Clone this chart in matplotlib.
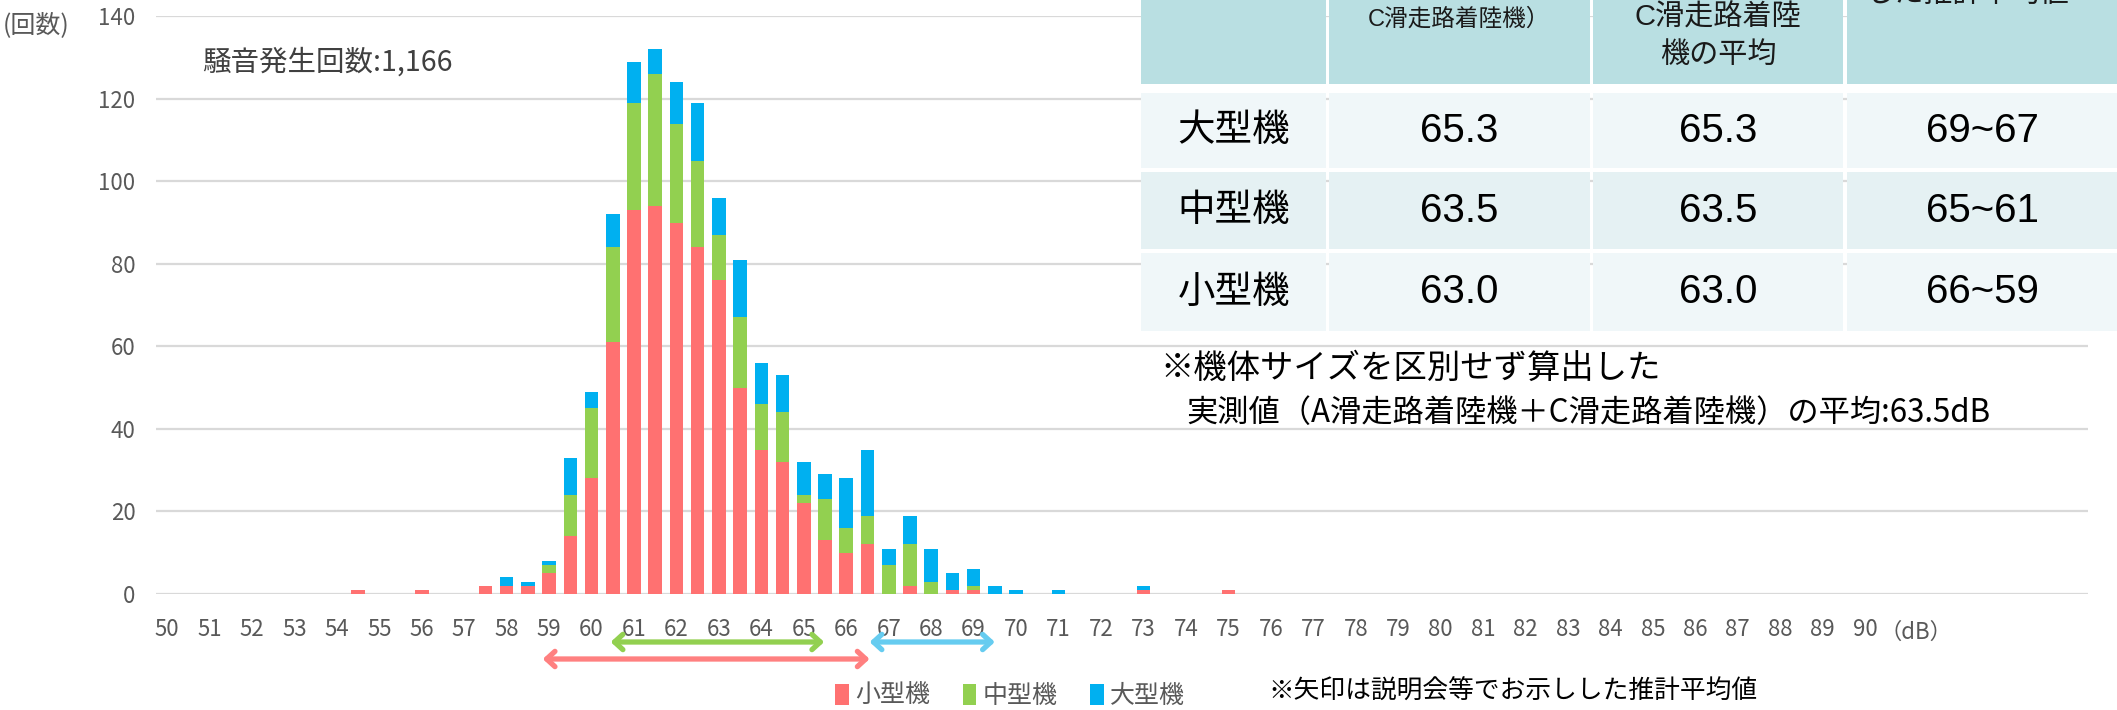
import matplotlib
matplotlib.use('Agg')
import matplotlib.pyplot as plt
from matplotlib.patches import Rectangle

plt.rcParams['font.family'] = ['Noto Sans CJK JP', 'DejaVu Sans']

W, H = 2117, 710

# 0.5 dB bins that carry any events (axis runs 50-95)
db_bins = [54.5, 55.0, 55.5, 56.0, 56.5, 57.0, 57.5, 58.0, 58.5, 59.0,
           59.5, 60.0, 60.5, 61.0, 61.5, 62.0, 62.5, 63.0, 63.5, 64.0,
           64.5, 65.0, 65.5, 66.0, 66.5, 67.0, 67.5, 68.0, 68.5, 69.0,
           69.5, 70.0, 70.5, 71.0, 71.5, 72.0, 72.5, 73.0, 73.5, 74.0,
           74.5, 75.0]
small = [1, 0, 0, 1, 0, 0, 2, 2, 2, 5,
         14, 28, 61, 93, 94, 90, 84, 76, 50, 35,
         32, 22, 13, 10, 12, 0, 2, 0, 1, 1,
         0, 0, 0, 0, 0, 0, 0, 1, 0, 0,
         0, 1]
mid = [0, 0, 0, 0, 0, 0, 0, 0, 0, 2,
       10, 17, 23, 26, 32, 24, 21, 11, 17, 11,
       12, 2, 10, 6, 7, 7, 10, 3, 0, 1,
       0, 0, 0, 0, 0, 0, 0, 0, 0, 0,
       0, 0]
large = [0, 0, 0, 0, 0, 0, 0, 2, 1, 1,
         9, 4, 8, 10, 6, 10, 14, 9, 14, 10,
         9, 8, 6, 12, 16, 4, 7, 8, 4, 4,
         2, 1, 0, 1, 0, 0, 0, 1, 0, 0,
         0, 0]
series_names = ['小型機', '中型機', '大型機']
series_colors = ['#FF7171', '#92D050', '#00B0F0']

x_ticks = list(range(50, 91))
y_ticks = [0, 20, 40, 60, 80, 100, 120, 140]

# table on the top right
size_rows = ['大型機', '中型機', '小型機']
avg_measured = [65.3, 63.5, 63.0]
avg_measured_ac = [65.3, 63.5, 63.0]
est_ranges = ['69~67', '65~61', '66~59']

# estimated-average arrows below the axis (dB span)
arrow_spans = [(58.85, 66.55), (60.45, 65.48), (66.55, 69.5)]
arrow_colors = ['#FF8080', '#92D050', '#66CCF0']
arrow_rows = [659, 642, 642]   # pixel row from top

fig = plt.figure(figsize=(W / 100, H / 100), dpi=100)
fig.patch.set_facecolor('white')

ax_l, ax_r, ax_t, ax_b = 156.4, 2088, 16.2, 594
ax = fig.add_axes([ax_l / W, 1 - ax_b / H, (ax_r - ax_l) / W, (ax_b - ax_t) / H])

bottom = [0] * len(db_bins)
bars = []
for vals, name, col in zip([small, mid, large], series_names, series_colors):
    b = ax.bar(db_bins, vals, width=0.32, bottom=bottom, color=col,
               label=name, linewidth=0, zorder=3)
    bars.append(b)
    bottom = [a + v for a, v in zip(bottom, vals)]

ax.set_xlim(49.75, 95.25)
ax.set_ylim(0, 140)
ax.set_xticks(x_ticks)
ax.set_yticks(y_ticks)
ax.yaxis.grid(True, color='#D9D9D9', lw=1.6)
ax.set_axisbelow(True)
for s in ax.spines.values():
    s.set_visible(False)
ax.tick_params(length=0, labelsize=16, labelcolor='#595959')
ax.tick_params(axis='y', pad=15)
ax.tick_params(axis='x', pad=17)

for (lo, hi), col, row in zip(arrow_spans, arrow_colors, arrow_rows):
    ax.annotate('', xy=(hi, H - row), xytext=(lo, H - row),
                xycoords=('data', 'figure pixels'),
                textcoords=('data', 'figure pixels'),
                annotation_clip=False,
                arrowprops=dict(arrowstyle='<->,head_length=0.6,head_width=0.55',
                                lw=3.8, color=col, shrinkA=0, shrinkB=0,
                                capstyle='round', joinstyle='round'))

fig.legend(handles=bars, labels=series_names, loc='center',
           bbox_to_anchor=(1010 / W, 1 - 696 / H), ncol=3, frameon=False,
           fontsize=18, handlelength=0.55, handleheight=0.9,
           handletextpad=0.25, columnspacing=1.3, labelcolor='#595959')

# overlay in pixel coordinates for the table and notes
ov = fig.add_axes([0, 0, 1, 1], zorder=5)
ov.set_xlim(0, W)
ov.set_ylim(H, 0)
ov.axis('off')
ov.patch.set_alpha(0)

total = sum(small) + sum(mid) + sum(large)
ov.text(3, 25, '(回数)', fontsize=18, color='#595959', va='center')
ov.text(202, 63, f'騒音発生回数:{total:,}', fontsize=20.5, color='#404040',
        va='center')
ov.text(1916, 632, '（dB）', fontsize=16, color='#595959', ha='center',
        va='center')

ov.text(1160, 368, '※機体サイズを区別せず算出した', fontsize=24,
        color='black', va='center')
ov.text(1186, 413, '実測値（A滑走路着陸機＋C滑走路着陸機）の平均:63.5dB',
        fontsize=22.5, color='black', va='center')
ov.text(1268, 692, '※矢印は説明会等でお示しした推計平均値', fontsize=18.5,
        color='black', va='center')

# table cells
col_edges = [(1141, 1326), (1329, 1590), (1593, 1843), (1847, 2130)]
row_edges = [(-5, 84), (93, 168), (172, 249), (253, 331)]
row_colors = ['#B9DFE2', '#F0F7F9', '#E5F1F3', '#F0F7F9']
for (y0, y1), rc in zip(row_edges, row_colors):
    for (x0, x1) in col_edges:
        ov.add_patch(Rectangle((x0, y0), x1 - x0, y1 - y0, facecolor=rc,
                               edgecolor='none'))

tfam = ['Liberation Sans', 'Noto Sans CJK JP']
ov.text(1459, 19, 'C滑走路着陸機）', fontsize=17, family=tfam,
        ha='center', va='center', color='#1A1A1A')
ov.text(1718, 18, 'C滑走路着陸', fontsize=21, family=tfam,
        ha='center', va='center', color='#1A1A1A')
ov.text(1718, 55, '機の平均', fontsize=21, family=tfam,
        ha='center', va='center', color='#1A1A1A')
ov.text(1967, -5, 'した推計平均値', fontsize=21, family=tfam,
        ha='center', va='center', color='#1A1A1A')

col_cx = [1234, 1459, 1718, 1982]
for i, (y0, y1) in enumerate(row_edges[1:]):
    cy = (y0 + y1) / 2
    ov.text(col_cx[0], cy, size_rows[i], fontsize=27, ha='center',
            va='center', color='black')
    ov.text(col_cx[1], cy, f'{avg_measured[i]:.1f}', fontsize=29, family=tfam,
            ha='center', va='center', color='black')
    ov.text(col_cx[2], cy, f'{avg_measured_ac[i]:.1f}', fontsize=29, family=tfam,
            ha='center', va='center', color='black')
    ov.text(col_cx[3], cy, est_ranges[i], fontsize=29, family=tfam,
            ha='center', va='center', color='black')

fig.savefig('out.png', dpi=100, facecolor='white')
